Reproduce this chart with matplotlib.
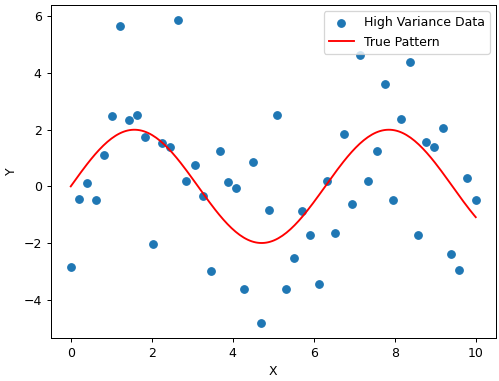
import numpy as np
import matplotlib
matplotlib.use("Agg")
import matplotlib.pyplot as plt

# Data
x_data = np.linspace(0, 10, 50)
y_data = [-2.84, -0.43, 0.11, -0.47, 1.12, 2.50, 5.65, 2.35, 2.51, 1.76,
          -2.04, 1.52, 1.39, 5.87, 0.18, 0.74, -0.34, -3.00, 1.26, 0.16,
          -0.05, -3.64, 0.85, -4.82, -0.82, 2.53, -3.64, -2.53, -0.88, -1.73,
          -3.43, 0.20, -1.64, 1.84, -0.62, 4.63, 0.18, 1.25, 3.60, -0.49,
          2.37, 4.38, -1.71, 1.58, 1.39, 2.05, -2.40, -2.97, 0.30, -0.49]
amplitude = 2.0
x_line = np.linspace(0, 10, 200)
y_line = amplitude * np.sin(x_line)

W, H = 499, 381
DPI = 90
fig = plt.figure(figsize=(W / DPI, H / DPI), dpi=DPI)
ax = fig.add_axes([50.5 / W, (H - 338) / H, (496 - 50.5) / W, (338 - 5) / H])
ax.scatter(x_data, y_data, label="High Variance Data")
ax.plot(x_line, y_line, color="red", label="True Pattern")
ax.set_xlabel("X")
ax.set_ylabel("Y")
ax.legend(loc="upper right")
fig.savefig("out.png", dpi=DPI)
